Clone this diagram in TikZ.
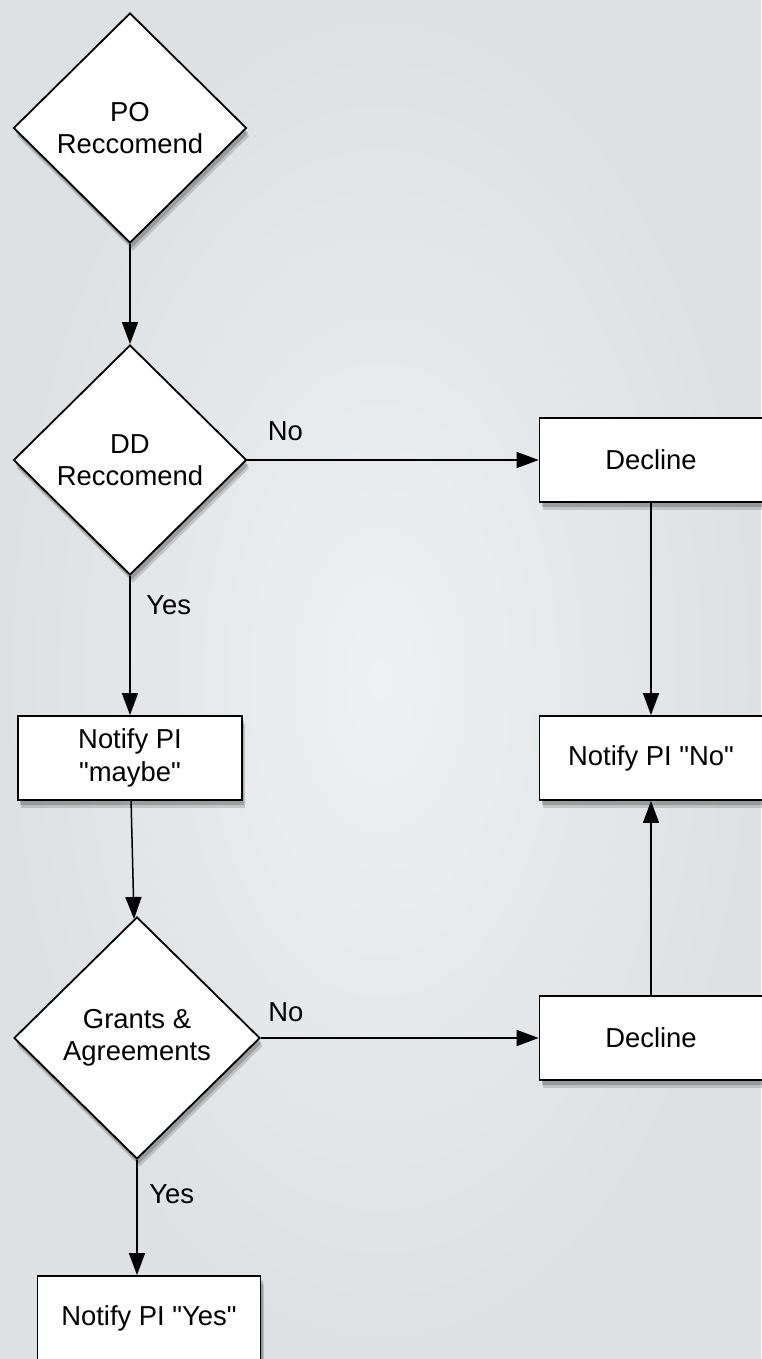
\documentclass[tikz,border=0pt]{standalone}
\usepackage{fontspec}
\setmainfont{Liberation Sans}[Ligatures=TeXOff]
\usetikzlibrary{shapes.geometric,arrows.meta,shadows}
\definecolor{bgin}{RGB}{238,240,242}
\definecolor{bgout}{RGB}{222,225,228}

\begin{document}
\begin{tikzpicture}[node distance=140pt, font=\fontsize{13.7}{16.2}\selectfont]
      \tikzstyle{decision} = [diamond, aspect=1, inner sep=0pt, minimum width=116.5pt, minimum height=115pt, text centered, align=center, draw=black, line width=0.9pt, fill=white, drop shadow={shadow xshift=1.5pt, shadow yshift=-4pt, opacity=0.15, fill=black}, drop shadow={shadow xshift=1pt, shadow yshift=-2.5pt, opacity=0.2, fill=black}]
      \tikzstyle{process} = [rectangle, minimum width=111.5pt, minimum height=42pt, text centered, align=center, draw=black, line width=0.9pt, fill=white, drop shadow={shadow xshift=1.5pt, shadow yshift=-4pt, opacity=0.15, fill=black}, drop shadow={shadow xshift=1pt, shadow yshift=-2.5pt, opacity=0.2, fill=black}]
      \tikzstyle{arrow} = [line width=0.75pt, -{Triangle[length=11pt,width=8pt]}]

      % background
      \shade [inner color=bgin, outer color=bgout] (-65pt,-615.5pt) rectangle (315.5pt,64pt);
      \useasboundingbox (-65pt,-615.5pt) rectangle (315.5pt,64pt);

      \node (po) [decision] {PO\\Reccomend};
      \node (dd) [decision, below of=po, yshift=-26pt] {DD\\Reccomend};
      \node (maybe) [process, minimum width=112pt, below of=dd, yshift=-9pt] {Notify PI\\"maybe"};
      \node (ga) [decision, minimum width=123pt, minimum height=121pt, below of=maybe, xshift=3.5pt] {Grants \&\\Agreements};
      \node (yes) [process, below of=ga, xshift=6pt] {Notify PI "Yes"};

      \node (decl1) [process, right of=dd, xshift=120.5pt] {Decline};
      \node (notno) [process, below of=decl1, yshift=-9pt] {Notify PI "No"};
      \node (decl2) [process, right of=ga, xshift=117pt] {Decline};

      \draw [arrow] (po) -- (dd);
      \draw [arrow] (dd) -- node [pos=0.13, above=6pt] {No} (decl1);
      \draw [arrow] (dd) -- node [pos=0.21, right=4.5pt] {Yes} (maybe);
      \draw [arrow] (maybe) -- (ga);
      \draw [arrow] (ga) -- node [pos=0.09, above=4.5pt] {No} (decl2);
      \draw [arrow] (ga) -- node [pos=0.3, right=2.5pt] {Yes} (ga.south |- yes.north);

      \draw [arrow] (decl1) -- (notno);
      \draw [arrow] (decl2) -- (notno);
    \end{tikzpicture}
\end{document}
